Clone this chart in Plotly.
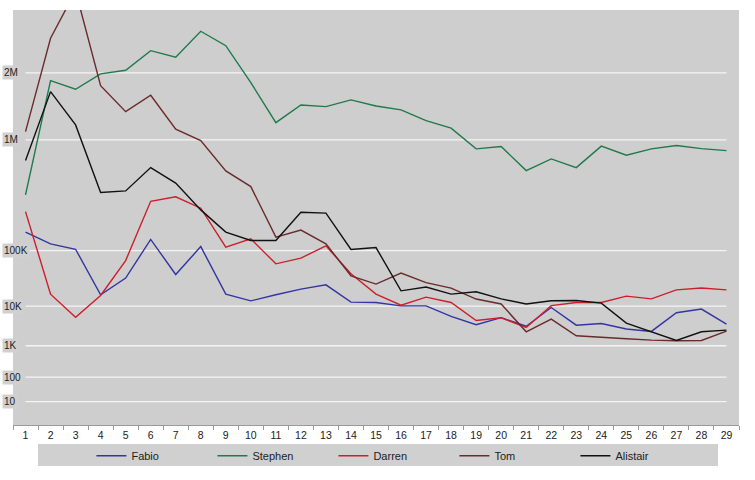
import numpy as np
import plotly.graph_objects as go

days = [str(d) for d in range(1, 30)]
fabio = [185000, 128000, 105000, 16000, 32000, 148000, 37000, 116000, 16400, 12400,
         16000, 20200, 24100, 11800, 11600, 10100, 10100, 5500, 3400, 5100,
         3100, 9200, 3300, 3650, 2650, 2300, 6800, 8400, 3500]
stephen = [436000, 1867000, 1724000, 1982000, 2046000, 2407000, 2283000, 2794000, 2504000, 1833000,
           1225000, 1479000, 1454000, 1555000, 1464000, 1405000, 1253000, 1150000, 892000, 919000,
           657000, 779000, 687000, 924000, 820000, 892000, 931000, 895000, 872000]
darren = [310000, 16400, 5200, 15500, 66000, 385000, 420000, 334000, 114000, 151000,
          57600, 73000, 119000, 38100, 16400, 10400, 14500, 11600, 4340, 5070,
          2890, 10200, 11600, 11600, 15100, 13500, 19600, 21100, 19600]
tom = [1105000, 2651000, 3690000, 1783000, 1380000, 1628000, 1137000, 991000, 654000, 506000,
       159000, 196000, 128000, 35100, 24900, 39300, 26500, 21100, 13400, 10900,
       2250, 4710, 1790, 1620, 1500, 1390, 1340, 1360, 2340]
alistair = [761000, 1686000, 1194000, 455000, 469000, 687000, 537000, 322000, 185000, 143000,
            143000, 306000, 300000, 104000, 112000, 18800, 22000, 16400, 18100, 13500,
            10900, 12500, 12600, 11300, 3730, 2250, 1360, 2250, 2480]

series_names = ["Fabio", "Stephen", "Darren", "Tom", "Alistair"]
series_values = [fabio, stephen, darren, tom, alistair]
series_colors = ["#3434a2", "#1f7a4c", "#cc1f2b", "#6a2b2b", "#111111"]

tick_values = [10, 100, 1000, 10000, 100000, 1000000, 2000000]
tick_labels = ["10", "100", "1K", "10K", "100K", "1M", "2M"]

# Custom axis scale of the original chart: stepwise log below 100K, square-root above.
LOG_KNOTS = [0, 1, 2, 3, 4, 5]
POS_KNOTS = [-1.4, 23.3, 48.0, 79.3, 119.0, 174.6]
SQRT_GAIN = 0.1619


def scale(v):
    v = np.asarray(v, dtype=float)
    low = np.interp(np.log10(v), LOG_KNOTS, POS_KNOTS)
    high = POS_KNOTS[-1] + SQRT_GAIN * (np.sqrt(v) - np.sqrt(1e5))
    return np.where(v > 1e5, high, low)


fig = go.Figure()
for name, vals, col in zip(series_names, series_values, series_colors):
    fig.add_trace(go.Scatter(
        x=days, y=scale(vals), customdata=vals, name=name, mode="lines",
        line=dict(color=col, width=1.4),
        hovertemplate="%{x}: %{customdata:,}<extra>" + name + "</extra>",
    ))

shapes = []
annotations = []
for tv, tl in zip(tick_values, tick_labels):
    yv = float(scale(tv))
    shapes.append(dict(type="line", xref="x", yref="y", x0=0, x1=len(days) - 1,
                       y0=yv, y1=yv, line=dict(color="#f4f4f4", width=1.3), layer="below"))
    annotations.append(dict(xref="paper", yref="y", x=-0.0152, y=yv, text=tl,
                            showarrow=False, xanchor="left", yanchor="middle",
                            bgcolor="#d0d0d0", borderpad=1,
                            font=dict(family="Liberation Sans, Arial", size=10, color="#222")))

# legend background band
shapes.append(dict(type="rect", xref="paper", yref="paper", x0=0.0344, x1=0.9711,
                   y0=-0.0987, y1=-0.0457, fillcolor="#d0d0d0", line=dict(width=0),
                   layer="below"))

fig.update_layout(
    width=755, height=480,
    margin=dict(l=13, r=16, t=10, b=55),
    paper_bgcolor="white", plot_bgcolor="#cecece",
    shapes=shapes, annotations=annotations,
    showlegend=True,
    legend=dict(orientation="h", x=0.108, xanchor="left", y=-0.039, yanchor="top",
                bgcolor="rgba(0,0,0,0)", entrywidth=76, entrywidthmode="pixels",
                font=dict(family="Liberation Sans, Arial", size=11, color="#222"),
                tracegroupgap=0, itemwidth=30),
    xaxis=dict(type="category", range=[-0.5, len(days) - 0.5], tickson="boundaries",
               ticks="outside", ticklen=4, tickcolor="#999", showline=True,
               linecolor="#9a9a9a", linewidth=1, showgrid=False, zeroline=False,
               tickfont=dict(family="Liberation Sans, Arial", size=10.5, color="#222")),
    yaxis=dict(range=[0, 415.3], showticklabels=False, showgrid=False, zeroline=False,
               ticks=""),
)

fig.write_html("out.html", config={"displayModeBar": False},
               post_script="document.body.style.margin='0px';")
